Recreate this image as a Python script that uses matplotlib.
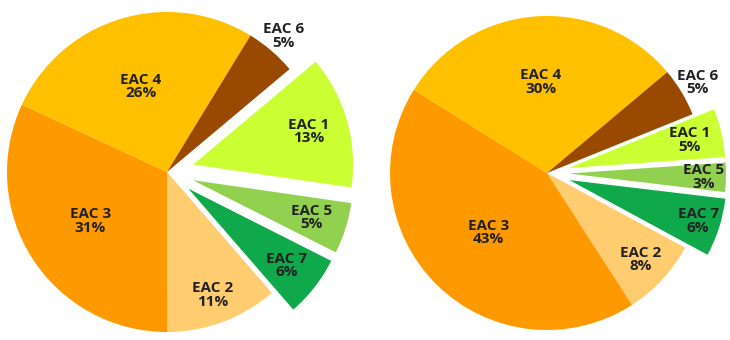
import numpy as np
import matplotlib
matplotlib.use("Agg")
import matplotlib.pyplot as plt

# slice order, clockwise from the right
labels = ["EAC 1", "EAC 5", "EAC 7", "EAC 2", "EAC 3", "EAC 4", "EAC 6"]
left_values = [13, 5, 6, 11, 31, 26, 5]
right_values = [5, 3, 6, 8, 43, 30, 5]

colors = ["#CCFF33", "#92D050", "#0FA84A", "#FFCC70", "#FF9900", "#FFC000", "#994A00"]

plt.rcParams['font.family'] = ['Open Sans', 'DejaVu Sans']

fig = plt.figure(figsize=(7.3, 3.4), dpi=100)


def draw_pie(ax, values, start, expl, label_r, cx, cy, rad, w):
    wedges, _ = ax.pie(values, colors=colors, startangle=start, counterclock=False,
                       explode=expl, wedgeprops=dict(linewidth=0))
    for wd, lab, v, lr in zip(wedges, labels, values, label_r):
        ang = np.deg2rad((wd.theta1 + wd.theta2) / 2)
        x0, y0 = wd.center
        ax.text(x0 + lr * np.cos(ang), y0 + lr * np.sin(ang), f"{lab}\n{v}%",
                ha="center", va="center", fontsize=11, fontweight="bold",
                color="#222222", linespacing=0.95)
    # pixel-exact limits so the pie sits where it should
    ax.set_xlim(-cx / rad, (w - cx) / rad)
    ax.set_ylim(-(340 - cy) / rad, cy / rad)
    ax.set_aspect("auto")
    ax.axis("off")


ax1 = fig.add_axes([0, 0, 0.5, 1])
draw_pie(ax1, left_values, 40, [0.17, 0.17, 0.17, 0, 0, 0, 0],
         [0.75, 0.78, 0.78, 0.82, 0.57, 0.56, 1.12], 167, 172, 160, 365)

ax2 = fig.add_axes([0.5, 0, 0.5, 1])
draw_pie(ax2, right_values, 22, [0.14, 0.14, 0.15, 0, 0, 0, 0],
         [0.79, 0.86, 0.86, 0.81, 0.53, 0.58, 1.12], 182, 173, 157, 365)

fig.savefig("out.png", dpi=100)
